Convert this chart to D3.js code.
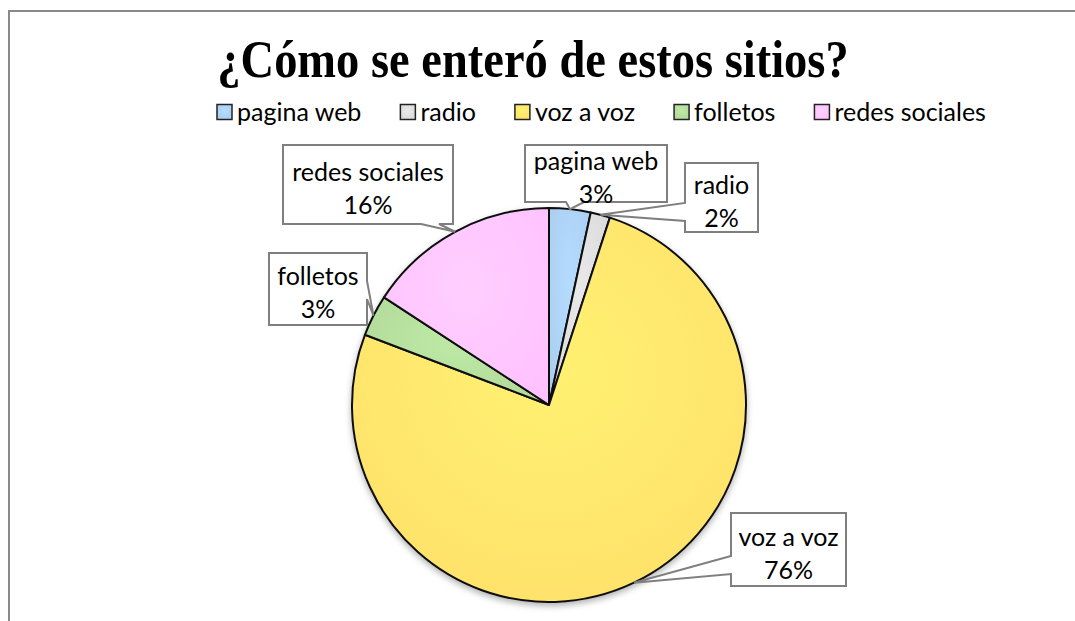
<!DOCTYPE html>
<html>
<head>
<meta charset="utf-8">
<script src="https://cdn.jsdelivr.net/npm/d3@7/dist/d3.min.js"></script>
<style>
  body { margin: 0; background: #fff; }
  svg { display: block; }
</style>
</head>
<body>
<div id="chart"></div>
<script>
// data
const categories = ["pagina web", "radio", "voz a voz", "folletos", "redes sociales"];
const values = [3.4, 1.6, 75.8, 3.4, 15.8];
const colors = ["#a9cdef", "#d9d9d9", "#ffe06a", "#b1d99a", "#ffc1ff"];
const title = "¿Cómo se enteró de estos sitios?";

const width = 1075;
const height = 621;
const cx = 549, cy = 405, radius = 197;
const labelFont = "Lato, 'Open Sans', sans-serif";

// label box layout (box in page px, wedge side + base centre)
const labelBoxes = [
  { x: 525, y: 145, w: 142, h: 57, side: "bottom", base: 575 },
  { x: 685, y: 163, w: 73,  h: 69, side: "left",   base: 212 },
  { x: 731, y: 513, w: 115, h: 73, side: "left",   base: 565 },
  { x: 269, y: 253, w: 98,  h: 72, side: "right",  base: 290 },
  { x: 283, y: 145, w: 170, h: 79, side: "bottom", base: 430 }
];

const svg = d3.select("#chart")
  .append("svg")
  .attr("width", width)
  .attr("height", height);

// chart frame
svg.append("path")
  .attr("d", `M9,${height} L9,11 L${width},11`)
  .attr("fill", "none")
  .attr("stroke", "#8a8a8a")
  .attr("stroke-width", 2);

const defs = svg.append("defs");
colors.forEach((c, i) => {
  const g = defs.append("radialGradient")
    .attr("id", "grad" + i)
    .attr("cx", "50%").attr("cy", "40%").attr("r", "70%");
  g.append("stop").attr("offset", "0%").attr("stop-color", d3.color(c).brighter(0.2));
  g.append("stop").attr("offset", "100%").attr("stop-color", c);
});
const shadow = defs.append("filter").attr("id", "shadow")
  .attr("x", "-10%").attr("y", "-10%").attr("width", "120%").attr("height", "125%");
shadow.append("feDropShadow")
  .attr("dx", 0).attr("dy", 3).attr("stdDeviation", 3)
  .attr("flood-color", "#000").attr("flood-opacity", 0.3);

// title (the reference type is a little stretched vertically)
svg.append("text")
  .attr("transform", "translate(533,77) scale(1,1.12)")
  .attr("text-anchor", "middle")
  .style("font-family", "'Liberation Serif', 'Times New Roman', serif")
  .style("font-weight", "bold")
  .style("font-size", "46.5px")
  .text(title);

// legend
const legend = svg.append("g").attr("transform", "translate(0,112)");
let lx = 217;
categories.forEach((name, i) => {
  const item = legend.append("g").attr("transform", `translate(${lx},0)`);
  item.append("rect")
    .attr("x", 0).attr("y", -7.5)
    .attr("width", 15).attr("height", 15)
    .attr("fill", `url(#grad${i})`)
    .attr("stroke", "#222")
    .attr("stroke-width", 1.5);
  const t = item.append("text")
    .attr("x", 20)
    .attr("y", 9)
    .style("font-family", labelFont)
    .style("font-size", "25px")
    .text(name);
  lx += 20 + t.node().getComputedTextLength() + 39;
});

// pie
const pie = d3.pie().sort(null).value(d => d)(values);
const arc = d3.arc().innerRadius(0).outerRadius(radius);
const total = d3.sum(values);

const g = svg.append("g")
  .attr("transform", `translate(${cx},${cy})`)
  .attr("filter", "url(#shadow)");

g.selectAll("path.slice")
  .data(pie)
  .enter()
  .append("path")
  .attr("class", "slice")
  .attr("d", arc)
  .attr("fill", (d, i) => `url(#grad${i})`)
  .attr("stroke", "#111")
  .attr("stroke-width", 2)
  .attr("stroke-linejoin", "round");

// data callouts
pie.forEach((d, i) => {
  const b = labelBoxes[i];
  const mid = (d.startAngle + d.endAngle) / 2;
  const tipX = cx + radius * Math.sin(mid);
  const tipY = cy - radius * Math.cos(mid);
  const hw = 9;
  const x0 = b.x, y0 = b.y, x1 = b.x + b.w, y1 = b.y + b.h;
  let p;
  if (b.side === "bottom") {
    p = `M${x0},${y0} L${x1},${y0} L${x1},${y1} L${b.base + hw},${y1} L${tipX},${tipY} L${b.base - hw},${y1} L${x0},${y1} Z`;
  } else if (b.side === "left") {
    p = `M${x0},${y0} L${x1},${y0} L${x1},${y1} L${x0},${y1} L${x0},${b.base + hw} L${tipX},${tipY} L${x0},${b.base - hw} Z`;
  } else {
    p = `M${x0},${y0} L${x1},${y0} L${x1},${b.base - hw} L${tipX},${tipY} L${x1},${b.base + hw} L${x1},${y1} L${x0},${y1} Z`;
  }
  svg.append("path")
    .attr("d", p)
    .attr("fill", "#fff")
    .attr("stroke", "#7f7f7f")
    .attr("stroke-width", 2);

  const pct = Math.round(d.value / total * 100) + "%";
  const t = svg.append("text")
    .attr("text-anchor", "middle")
    .style("font-family", labelFont)
    .style("font-size", "25px");
  t.append("tspan").attr("x", x0 + b.w / 2).attr("y", y0 + b.h / 2 - 4).text(categories[i]);
  t.append("tspan").attr("x", x0 + b.w / 2).attr("y", y0 + b.h / 2 + 29).text(pct);
});
</script>
</body>
</html>
